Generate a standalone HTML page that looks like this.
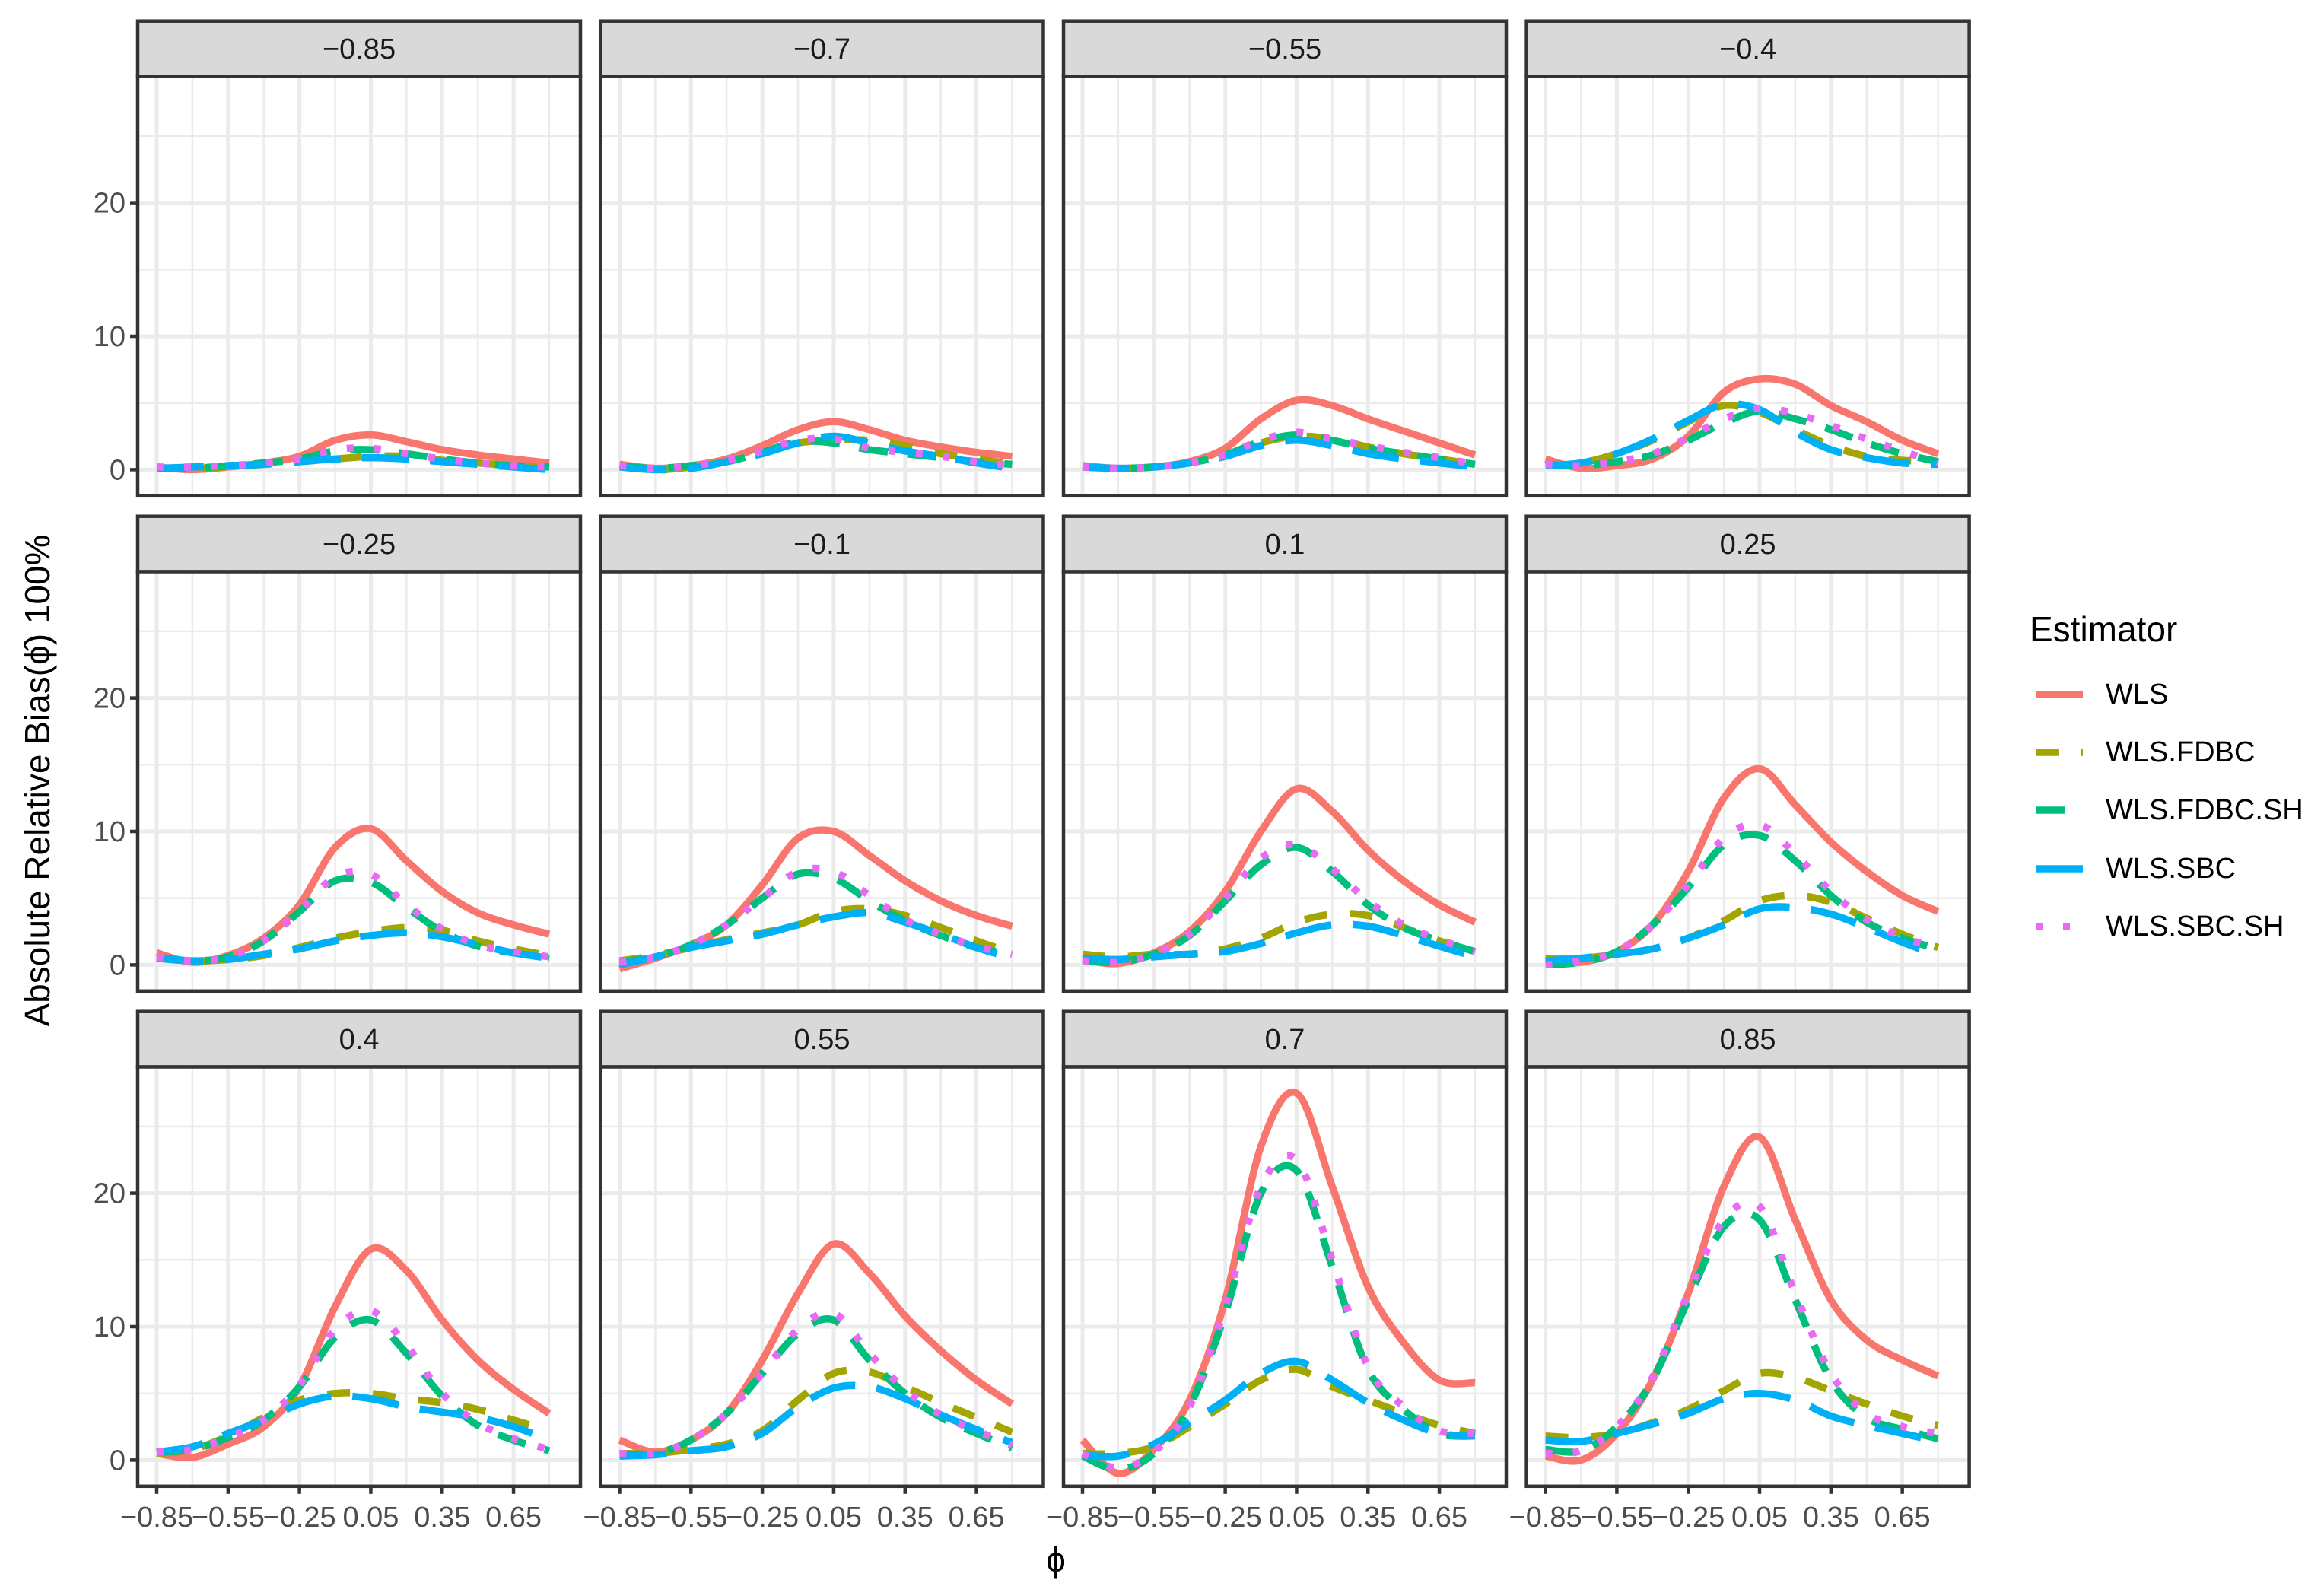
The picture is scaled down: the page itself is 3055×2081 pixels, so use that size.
<!DOCTYPE html>
<html><head><meta charset="utf-8"><style>
html,body{margin:0;padding:0;background:#fff;}
svg{display:block;font-family:"Liberation Sans",Arial,sans-serif;}
</style></head><body>
<svg id="chart" width="3055" height="2081" viewBox="0 0 3055 2081" xmlns="http://www.w3.org/2000/svg">
<text x="65" y="1026" transform="rotate(-90 65 1026)" text-anchor="middle" font-size="46" fill="#000">Absolute Relative Bias(ϕ̂) 100%</text>
<text x="1388" y="2066" text-anchor="middle" font-size="46" fill="#000">ϕ</text>
<g id="legend">
<text x="2668" y="843" font-size="46" fill="#000">Estimator</text>
</g>
</svg>
<script>
const facets = ["−0.85","−0.7","−0.55","−0.4","−0.25","−0.1","0.1","0.25","0.4","0.55","0.7","0.85"];
const xValues = [-0.85,-0.7,-0.55,-0.4,-0.25,-0.1,0.05,0.2,0.35,0.5,0.65,0.8];
const seriesNames = ["WLS","WLS.FDBC","WLS.FDBC.SH","WLS.SBC","WLS.SBC.SH"];
const xTicks = [-0.85,-0.55,-0.25,0.05,0.35,0.65];
const xTickLabels = ["−0.85","−0.55","−0.25","0.05","0.35","0.65"];
const yTicks = [0,10,20];
const yTickLabels = ["0","10","20"];
const wls = [
[0.2,0.0,0.2,0.5,1.0,2.2,2.6,2.1,1.5,1.1,0.8,0.5],
[0.4,0.1,0.3,0.8,1.8,3.0,3.6,3.0,2.2,1.7,1.3,1.0],
[0.3,0.1,0.2,0.6,1.6,3.8,5.2,4.8,3.8,2.9,2.0,1.1],
[0.8,0.1,0.3,0.8,2.5,5.8,6.8,6.4,4.8,3.6,2.2,1.2],
[0.9,0.2,0.7,2.0,4.5,8.8,10.2,7.8,5.5,3.9,3.0,2.3],
[-0.3,0.5,1.5,3.0,6.0,9.5,10.0,8.2,6.3,4.8,3.7,2.9],
[0.4,0.1,0.9,2.5,5.5,10.0,13.2,11.5,8.6,6.3,4.5,3.2],
[0.2,0.2,1.0,3.0,7.0,12.5,14.7,12.0,9.2,7.0,5.2,4.0],
[0.5,0.2,1.2,2.5,5.5,11.5,15.8,14.2,10.5,7.5,5.3,3.5],
[1.5,0.6,1.5,3.5,7.5,12.5,16.2,14.0,10.8,8.2,6.0,4.2],
[1.5,-1.0,0.8,4.5,12.0,23.5,27.5,20.5,13.0,8.8,6.0,5.8],
[0.3,0.0,2.0,6.0,12.5,20.5,24.2,18.0,12.0,9.0,7.5,6.3]];
const fdbc = [
[0.1,0.1,0.2,0.4,0.6,0.8,1.0,1.0,0.7,0.5,0.3,0.1],
[0.3,0.0,0.2,0.6,1.2,2.0,2.2,2.2,1.8,1.2,0.8,0.4],
[0.2,0.1,0.2,0.5,1.0,2.0,2.5,2.3,1.7,1.2,0.8,0.4],
[0.3,0.5,1.2,2.2,3.6,4.8,4.3,3.0,1.8,1.0,0.7,0.6],
[0.5,0.3,0.4,0.7,1.3,2.0,2.5,2.8,2.6,1.8,1.2,0.7],
[0.3,0.7,1.3,1.9,2.4,3.0,4.0,4.2,3.7,2.8,1.8,0.9],
[0.8,0.6,0.8,0.8,1.2,2.0,3.2,3.8,3.7,2.8,1.8,1.0],
[0.5,0.5,0.8,1.2,2.0,3.3,4.8,5.2,4.7,3.5,2.3,1.3],
[0.5,0.8,1.8,3.2,4.5,5.0,5.0,4.6,4.3,3.8,3.0,2.2],
[0.5,0.5,0.8,1.2,2.2,4.5,6.5,6.6,5.5,4.3,3.2,2.1],
[0.5,0.5,1.0,2.5,4.2,6.0,6.8,5.5,4.5,3.5,2.6,2.0],
[1.8,1.7,2.0,2.8,3.8,5.2,6.5,6.2,5.2,4.2,3.3,2.6]];
const fdbcSh = [
[0.1,0.1,0.3,0.5,0.8,1.4,1.5,1.2,0.8,0.5,0.3,0.2],
[0.3,0.1,0.3,0.6,1.3,2.1,2.0,1.5,1.2,0.9,0.6,0.4],
[0.2,0.1,0.2,0.5,1.1,2.1,2.6,2.2,1.6,1.2,0.8,0.4],
[0.4,0.3,0.6,1.1,2.2,3.5,4.4,3.8,3.0,2.0,1.2,0.6],
[0.6,0.3,0.6,1.8,4.0,6.3,6.2,4.3,2.5,1.4,0.9,0.5],
[0.2,0.6,1.5,3.0,5.0,6.8,6.5,4.8,3.3,2.2,1.3,0.8],
[0.3,0.2,0.8,2.2,4.8,7.5,8.8,7.0,4.5,2.8,1.8,1.0],
[0.0,0.2,1.0,3.0,5.8,9.0,9.7,7.8,5.2,3.2,2.0,1.2],
[0.6,0.8,1.7,3.0,5.5,9.2,10.5,8.0,4.8,2.6,1.5,0.7],
[0.4,0.5,1.5,3.5,6.5,9.5,10.5,7.5,5.0,3.2,2.0,0.9],
[0.3,-0.7,0.5,4.0,11.0,20.0,21.7,14.5,6.8,3.8,2.0,1.8],
[0.8,0.7,2.5,6.0,12.0,17.5,18.0,12.0,6.0,3.2,2.3,1.6]];
const sbc = [
[0.1,0.2,0.3,0.4,0.6,0.8,0.9,0.8,0.6,0.4,0.2,0.0],
[0.2,0.0,0.1,0.6,1.2,2.0,2.5,2.0,1.4,1.0,0.5,0.1],
[0.2,0.1,0.2,0.5,1.0,1.8,2.2,1.8,1.2,0.8,0.5,0.2],
[0.3,0.5,1.2,2.3,3.7,4.9,4.5,2.8,1.5,0.9,0.5,0.4],
[0.5,0.3,0.4,0.8,1.2,1.8,2.2,2.4,2.1,1.5,0.9,0.5],
[0.0,0.6,1.3,1.8,2.3,3.0,3.6,3.9,3.2,2.3,1.3,0.5],
[0.5,0.4,0.6,0.8,1.0,1.6,2.4,3.0,2.9,2.2,1.4,0.6],
[0.3,0.5,0.8,1.2,2.0,3.0,4.2,4.3,3.8,2.8,1.7,0.7],
[0.6,1.0,2.0,3.0,4.2,4.8,4.6,4.0,3.6,3.2,2.5,1.5],
[0.3,0.4,0.7,1.0,2.0,4.0,5.4,5.5,4.6,3.4,2.3,1.3],
[0.4,0.3,1.2,2.8,4.5,6.5,7.4,6.0,4.3,3.0,2.0,1.8],
[1.5,1.4,2.0,2.7,3.5,4.6,5.0,4.5,3.3,2.6,2.0,1.4]];
const sbcSh = [
[0.2,0.2,0.3,0.5,0.8,1.5,1.6,1.2,0.8,0.5,0.3,0.2],
[0.3,0.1,0.3,0.7,1.4,2.2,2.3,1.6,1.3,1.0,0.6,0.3],
[0.2,0.1,0.2,0.5,1.1,2.2,2.8,2.3,1.8,1.3,0.9,0.4],
[0.4,0.3,0.6,1.2,2.4,3.8,4.6,4.2,3.3,2.3,1.4,0.5],
[0.6,0.3,0.6,1.8,4.0,6.6,6.8,4.5,2.7,1.5,1.0,0.6],
[0.2,0.6,1.5,3.0,5.0,7.0,7.0,5.2,3.4,2.3,1.4,0.8],
[0.3,0.2,0.8,2.3,5.0,8.0,9.0,7.2,4.8,3.0,1.9,1.0],
[0.0,0.3,1.0,3.0,6.0,9.5,10.5,8.3,5.5,3.4,2.1,1.2],
[0.6,0.8,1.7,3.0,5.6,9.8,11.2,8.6,5.0,2.8,1.6,0.8],
[0.5,0.5,1.5,3.5,6.5,9.8,11.0,8.0,5.3,3.4,2.2,1.1],
[0.5,-0.6,0.6,4.0,11.5,20.5,22.5,15.0,7.0,4.0,2.2,2.0],
[0.5,0.7,2.5,6.2,12.5,18.0,19.0,12.5,6.5,3.5,2.5,2.0]];
const seriesData = [wls, fdbc, fdbcSh, sbc, sbcSh];
const colors = ["#F8766D","#A3A500","#00BF7D","#00B0F6","#E76BF3"];
const dashes = ["", "30,30", "38,26", "62,28", "9,27"];

const NS = "http://www.w3.org/2000/svg";
const svg = document.getElementById('chart');
const colLeft = [181, 789.5, 1398, 2006.6];
const rowTop = [27.7, 678.7, 1329.7];
const PW = 582, SH = 72.7, PH = 551.4;
function mk(tag, attrs, parent){ const e=document.createElementNS(NS,tag); for(const k in attrs) e.setAttribute(k,attrs[k]); (parent||svg).appendChild(e); return e; }
function xScale(v){ return 25 + (v + 0.85) * 312.7; }
function yScale(v){ return 517 - v * 17.54; }
function smoothPath(pts){
  let d = "M"+pts[0][0].toFixed(1)+","+pts[0][1].toFixed(1);
  for(let i=0;i<pts.length-1;i++){
    const p0=pts[Math.max(0,i-1)], p1=pts[i], p2=pts[i+1], p3=pts[Math.min(pts.length-1,i+2)];
    const c1=[p1[0]+(p2[0]-p0[0])/6, p1[1]+(p2[1]-p0[1])/6];
    const c2=[p2[0]-(p3[0]-p1[0])/6, p2[1]-(p3[1]-p1[1])/6];
    d += " C"+c1[0].toFixed(1)+","+c1[1].toFixed(1)+" "+c2[0].toFixed(1)+","+c2[1].toFixed(1)+" "+p2[0].toFixed(1)+","+p2[1].toFixed(1);
  }
  return d;
}
const gridMajX = [-0.85,-0.55,-0.25,0.05,0.35,0.65];
const gridMinX = [-0.7,-0.4,-0.1,0.2,0.5,0.8];
facets.forEach((lab, f)=>{
  const r = Math.floor(f/4), c = f%4;
  const L = colLeft[c], T = rowTop[r], PT = T + SH;
  const g = mk('g', {transform:`translate(${L},${PT})`});
  
  
  mk('rect',{x:0,y:0,width:PW,height:PH,fill:'#fff'},g);
  [5,15,25].forEach(v=>mk('line',{x1:0,x2:PW,y1:yScale(v),y2:yScale(v),stroke:'#EBEBEB','stroke-width':2.5},g));
  gridMinX.forEach(v=>mk('line',{x1:xScale(v),x2:xScale(v),y1:0,y2:PH,stroke:'#EBEBEB','stroke-width':2.5},g));
  yTicks.forEach(v=>mk('line',{x1:0,x2:PW,y1:yScale(v),y2:yScale(v),stroke:'#EBEBEB','stroke-width':5},g));
  gridMajX.forEach(v=>mk('line',{x1:xScale(v),x2:xScale(v),y1:0,y2:PH,stroke:'#EBEBEB','stroke-width':5},g));
  const clip = mk('clipPath',{id:'clip'+f},g);
  mk('rect',{x:0,y:0,width:PW,height:PH},clip);
  const lg = mk('g',{'clip-path':`url(#clip${f})`},g);
  seriesData.forEach((sd, s)=>{
    const pts = xValues.map((x,i)=>[xScale(x), yScale(sd[f][i])]);
    const p = mk('path',{d:smoothPath(pts),fill:'none',stroke:colors[s],'stroke-width':9.5,'stroke-linejoin':'round'},lg);
    if(dashes[s]) p.setAttribute('stroke-dasharray', dashes[s]);
    
    
  });
  mk('rect',{x:0,y:0,width:PW,height:PH,fill:'none',stroke:'#333','stroke-width':4.5},g);
  const st = mk('rect',{x:L,y:T,width:PW,height:SH,fill:'#D9D9D9',stroke:'#333','stroke-width':4.5});
  
  
  const stt = mk('text',{x:L+PW/2,y:T+SH/2+13,'text-anchor':'middle','font-size':38,fill:'#1A1A1A'});
  stt.textContent = lab;
  
  
  if(c===0){
    yTicks.forEach((v,i)=>{
      const yy = PT + yScale(v);
      mk('line',{x1:L-10,x2:L,y1:yy,y2:yy,stroke:'#333','stroke-width':4.5});
      const t = mk('text',{x:L-16,y:yy+13,'text-anchor':'end','font-size':38,fill:'#4D4D4D'});
      t.textContent = yTickLabels[i];
      
      
    });
  }
  if(r===2){
    xTicks.forEach((v,i)=>{
      const xx = L + xScale(v);
      mk('line',{x1:xx,x2:xx,y1:PT+PH,y2:PT+PH+10,stroke:'#333','stroke-width':4.5});
      const t = mk('text',{x:xx,y:PT+PH+53,'text-anchor':'middle','font-size':38,fill:'#4D4D4D'});
      t.textContent = xTickLabels[i];
      
      
    });
  }
});
const legend = document.getElementById('legend');
const legY = [913, 989, 1065, 1142, 1218];
seriesNames.forEach((n,s)=>{
  const ln = mk('line',{x1:2676,x2:2738,y1:legY[s],y2:legY[s],stroke:colors[s],'stroke-width':9.5},legend);
  if(dashes[s]) ln.setAttribute('stroke-dasharray', dashes[s]);
  
  
  const t = mk('text',{x:2768,y:legY[s]+12,'font-size':38,fill:'#000'},legend);
  t.textContent = n;
  
  
});
</script>
</body></html>
